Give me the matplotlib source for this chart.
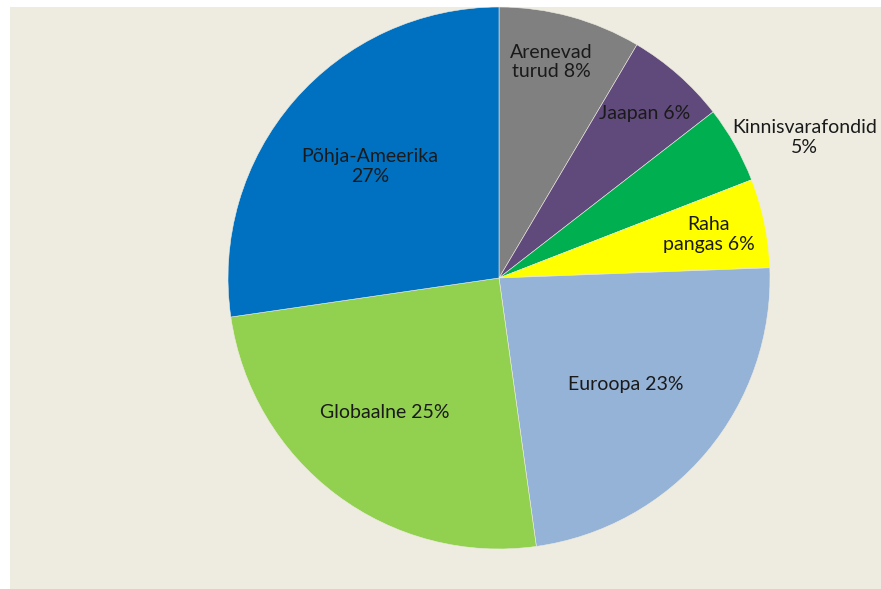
import matplotlib
matplotlib.use("Agg")
import matplotlib.pyplot as plt
import numpy as np

labels = ["Arenevad\nturud 8%", "Jaapan 6%", "Kinnisvarafondid\n5%", "Raha\npangas 6%",
          "Euroopa 23%", "Globaalne 25%", "Põhja-Ameerika\n27%"]
values = [8.5, 6.0, 4.6, 5.3, 23.4, 24.9, 27.3]
colors = ["#808080", "#604A7B", "#00B050", "#FFFF00", "#95B3D7", "#92D050", "#0070C0"]
label_dist = [0.82, 0.81, 1.24, 0.79, 0.61, 0.65, 0.63]
label_dang = [1.8, 0.0, -4.8, 0.0, 0.0, -3.5, 0.0]

W, H = 881, 589
cx, cy, R = 499, 278, 271

fig = plt.figure(figsize=(W / 100, H / 100), dpi=100)
fig.patch.set_facecolor("white")

bg = fig.add_axes([10 / W, 0, 1 - 10 / W, (H - 7) / H], zorder=0)
bg.set_facecolor("#EEECE1")
bg.set_xticks([]); bg.set_yticks([])
for s in bg.spines.values():
    s.set_visible(False)

ax = fig.add_axes([0, 0, 1, 1], zorder=1)
ax.set_facecolor("none")

wedges, _ = ax.pie(values, colors=colors, startangle=90, counterclock=False,
                   radius=1.0, center=(0, 0), frame=True,
                   wedgeprops=dict(edgecolor="#EEECE1", linewidth=0.4))
ax.set_xlim(-cx / R, (W - cx) / R)
ax.set_ylim(-(H - cy) / R, cy / R)
ax.set_aspect("auto")
ax.axis("off")

for w, lab, d, da in zip(wedges, labels, label_dist, label_dang):
    ang = np.deg2rad((w.theta1 + w.theta2) / 2 + da)
    ax.text(d * np.cos(ang), d * np.sin(ang), lab, ha="center", va="center",
            fontsize=14, family=["Lato", "DejaVu Sans"], color="#1a1a1a",
            linespacing=1.2)

fig.savefig("out.png", dpi=100, facecolor=fig.get_facecolor())
